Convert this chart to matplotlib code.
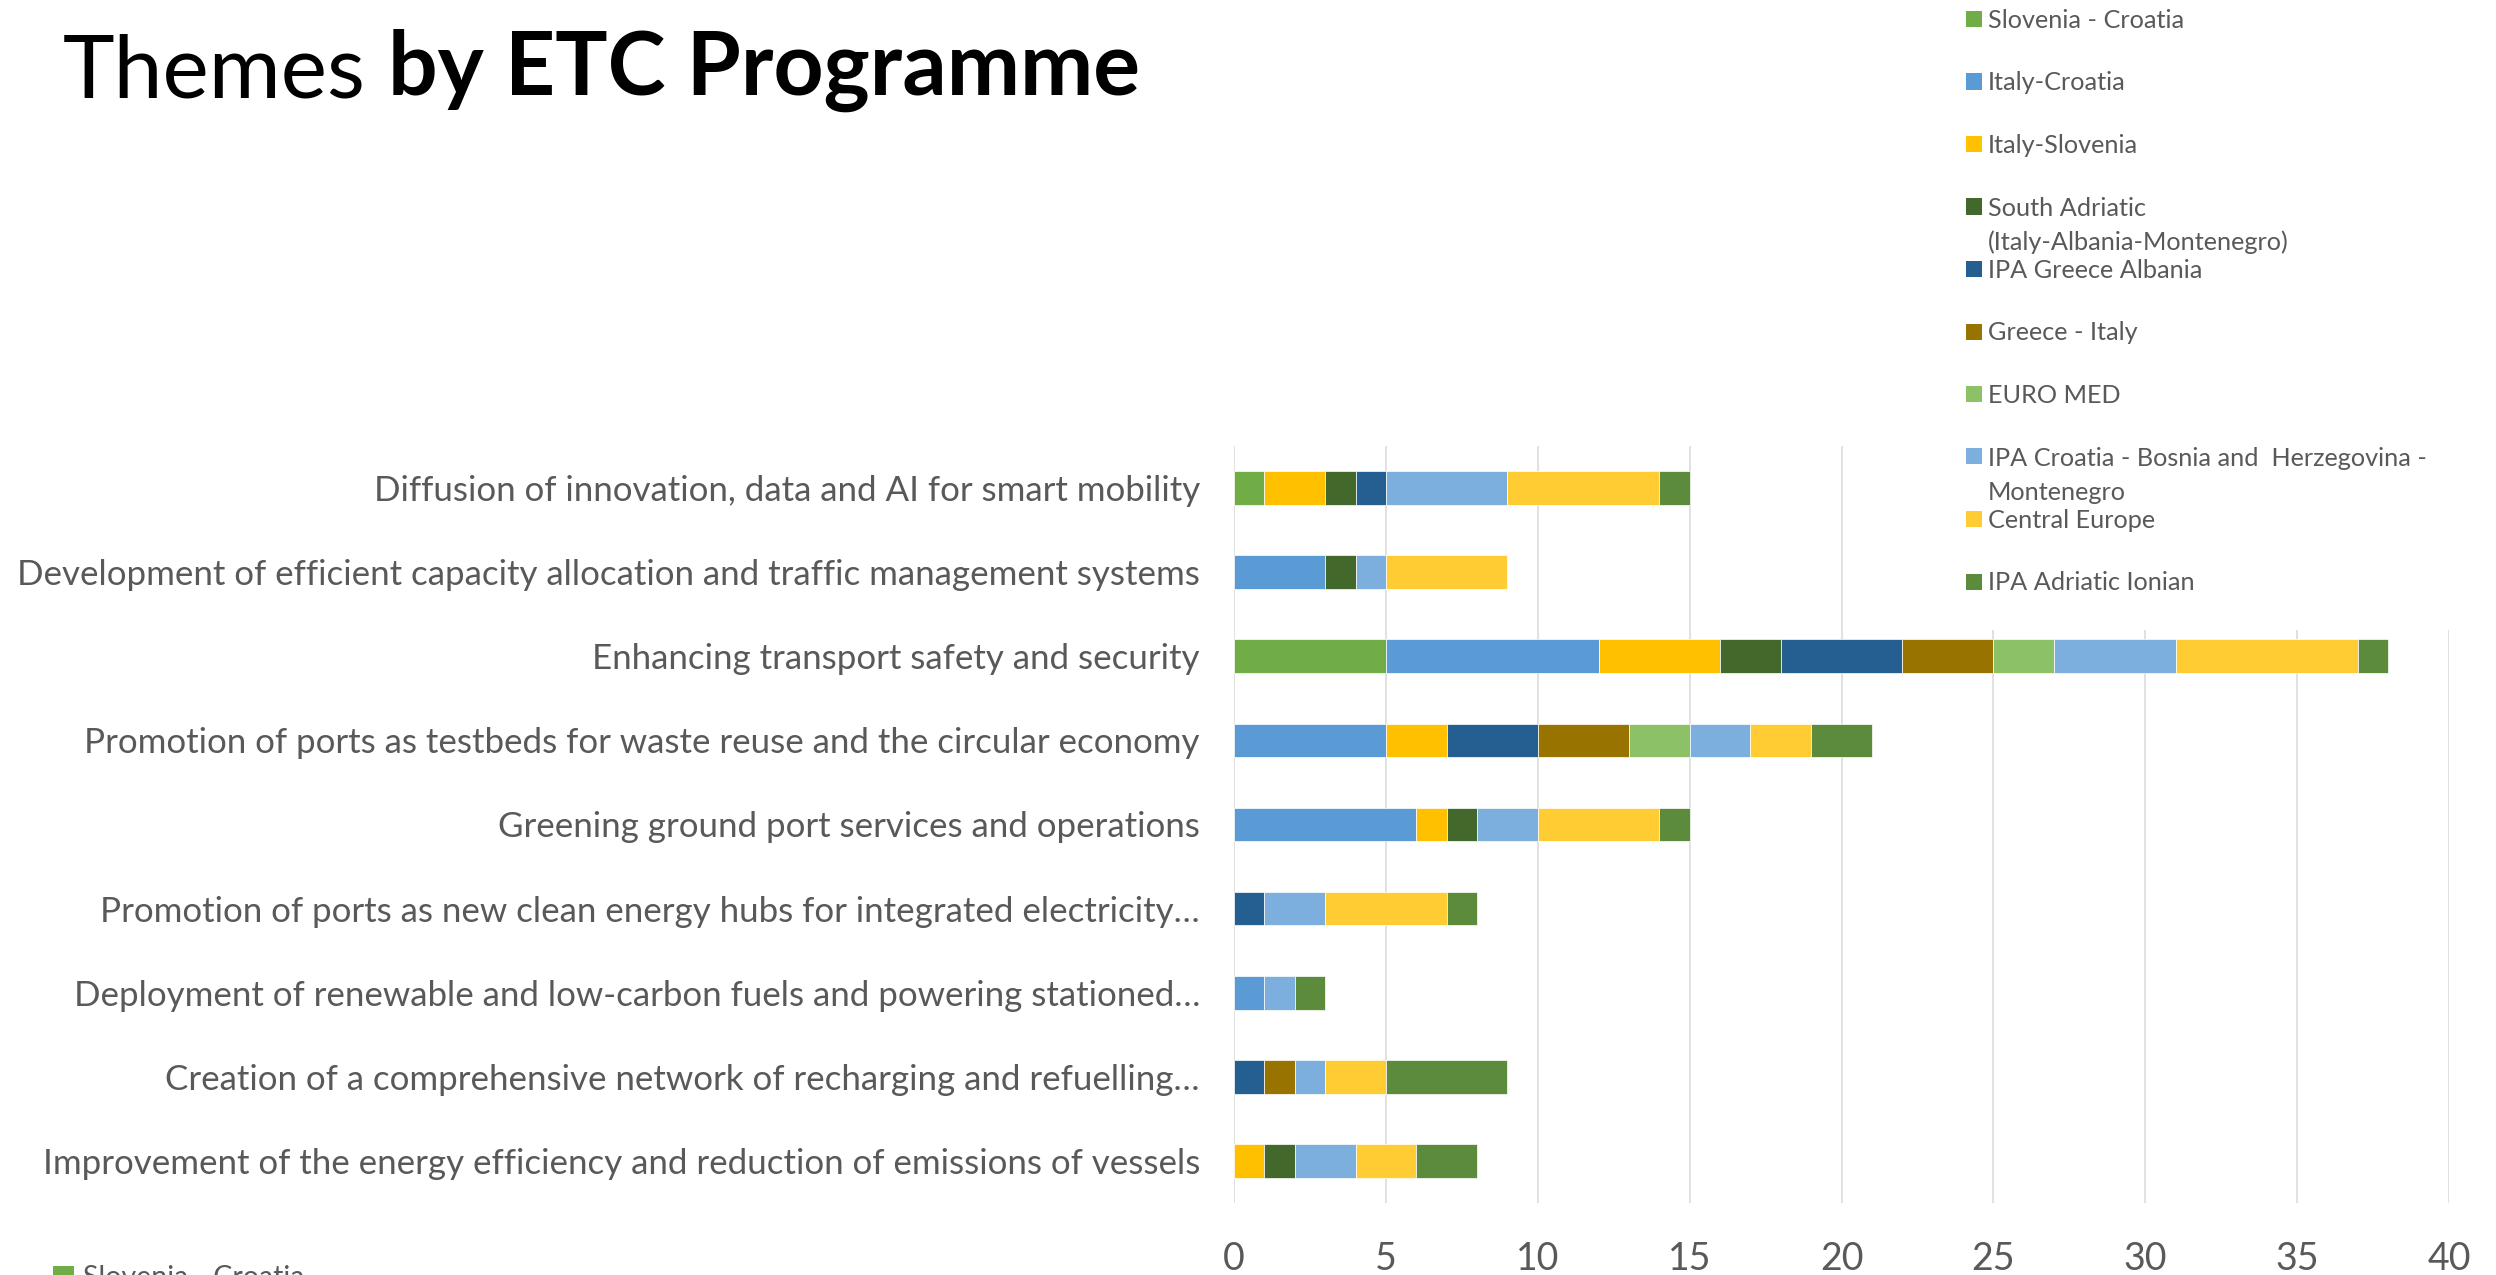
import matplotlib
matplotlib.use("Agg")
import matplotlib.pyplot as plt
from matplotlib.patches import Rectangle
import numpy as np

W, H = 2496, 1275

# categories, top to bottom
categories = [
    "Diffusion of innovation, data and AI for smart mobility",
    "Development of efficient capacity allocation and traffic management systems",
    "Enhancing transport safety and security",
    "Promotion of ports as testbeds for waste reuse and the circular economy",
    "Greening ground port services and operations",
    "Promotion of ports as new clean energy hubs for integrated electricity\u2026",
    "Deployment of renewable and low-carbon fuels and powering stationed\u2026",
    "Creation of a comprehensive network of recharging and refuelling\u2026",
    "Improvement of the energy efficiency and reduction of emissions of vessels",
]

series_names = [
    "Slovenia - Croatia",
    "Italy-Croatia",
    "Italy-Slovenia",
    "South Adriatic\n(Italy-Albania-Montenegro)",
    "IPA Greece Albania",
    "Greece - Italy",
    "EURO MED",
    "IPA Croatia - Bosnia and  Herzegovina -\nMontenegro",
    "Central Europe",
    "IPA Adriatic Ionian",
]

slovenia_croatia = [1, 0, 5, 0, 0, 0, 0, 0, 0]
italy_croatia = [0, 3, 7, 5, 6, 0, 1, 0, 0]
italy_slovenia = [2, 0, 4, 2, 1, 0, 0, 0, 1]
south_adriatic = [1, 1, 2, 0, 1, 0, 0, 0, 1]
ipa_greece_albania = [1, 0, 4, 3, 0, 1, 0, 1, 0]
greece_italy = [0, 0, 3, 3, 0, 0, 0, 1, 0]
euro_med = [0, 0, 2, 2, 0, 0, 0, 0, 0]
ipa_croatia_bih_mne = [4, 1, 4, 2, 2, 2, 1, 1, 2]
central_europe = [5, 4, 6, 2, 4, 4, 0, 2, 2]
ipa_adriatic_ionian = [1, 0, 1, 2, 1, 1, 1, 4, 2]

series_colors = ['#70AD47', '#5B9BD5', '#FFC000', '#43682B', '#255E91',
                 '#997300', '#8CC168', '#7CAFDD', '#FFCD33', '#5B8B3B']

plt.rcParams['font.family'] = ['Lato', 'DejaVu Sans']
TXT = '#595959'

fig = plt.figure(figsize=(W / 100, H / 100), dpi=100)
ax = fig.add_axes([1234 / W, 1 - 1203 / H, 1215 / W, 757 / H])

series = [slovenia_croatia, italy_croatia, italy_slovenia, south_adriatic,
          ipa_greece_albania, greece_italy, euro_med, ipa_croatia_bih_mne,
          central_europe, ipa_adriatic_ionian]

y = np.arange(len(categories))
left = np.zeros(len(categories))
for name, vals, color in zip(series_names, series, series_colors):
    vals = np.array(vals, dtype=float)
    m = vals > 0
    ax.barh(y[m], vals[m], left=left[m], height=0.4, color=color,
            edgecolor='white', linewidth=0.5, label=name, zorder=2)
    left += vals

ax.set_xlim(0, 40)
ax.set_ylim(len(categories) - 0.5, -0.5)
ax.set_xticks(np.arange(0, 41, 5))
ax.set_yticks(y)
ax.set_yticklabels(categories)
ax.tick_params(axis='y', length=0, pad=24.5, labelsize=25.1, labelcolor=TXT)
ax.tick_params(axis='x', length=0, pad=27, labelsize=27, labelcolor=TXT)
ax.xaxis.grid(True, color='#D9D9D9', linewidth=1.1)
ax.set_axisbelow(True)
for s in ax.spines.values():
    s.set_visible(False)

# legend drawn by hand: fixed row pitch, wrapped labels spill below
fig.add_artist(Rectangle((1900 / W, 1 - 630 / H), 1 - 1900 / W, 630 / H,
                         transform=fig.transFigure, facecolor='white',
                         edgecolor='none', zorder=3))
for i, (name, color) in enumerate(zip(series_names, series_colors)):
    cy = 19 + 62.5 * i
    fig.add_artist(Rectangle((1966 / W, 1 - (cy + 8) / H), 16.5 / W, 16 / H,
                             transform=fig.transFigure, facecolor=color,
                             edgecolor='none', zorder=4))
    for j, line in enumerate(name.split('\n')):
        fig.text(1988 / W, 1 - (cy + 9 + 35 * j) / H, line, va='baseline',
                 ha='left', fontsize=18.2, color=TXT, zorder=5)

# second copy of the legend, cut off by the bottom edge
fig.add_artist(Rectangle((53 / W, 1 - 1287 / H), 21 / W, 21 / H,
                         transform=fig.transFigure, facecolor=series_colors[0],
                         edgecolor='none', zorder=4))
fig.text(83 / W, 1 - 1286 / H, series_names[0], va='baseline', ha='left',
         fontsize=20.5, color=TXT)

# title: regular + bold
t1 = fig.text(63 / W, 1 - 97 / H, "Themes", fontsize=63, va='baseline',
              ha='left', color='black')
ax.annotate("by ETC Programme", xy=(1, 0), xycoords=t1, xytext=(16, 0),
            textcoords='offset points', va='bottom', ha='left', fontsize=63,
            fontweight='bold', color='black', annotation_clip=False)

fig.savefig("out.png", dpi=100)
